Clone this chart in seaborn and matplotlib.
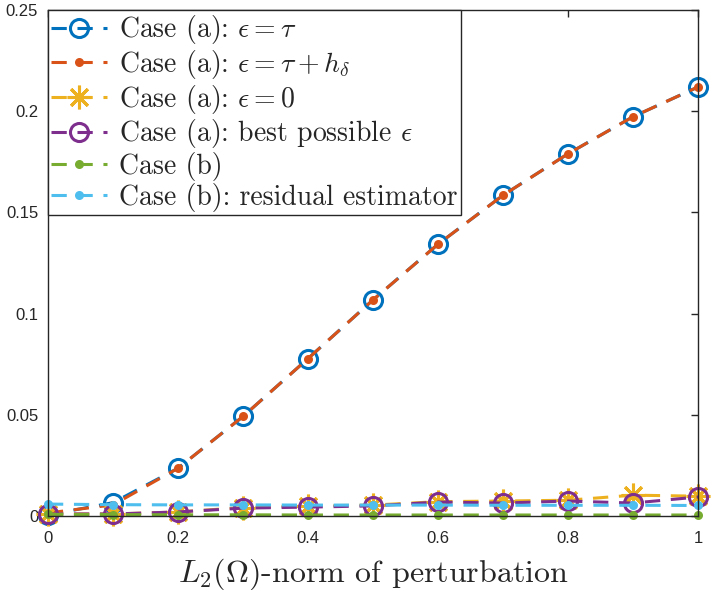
import numpy as np
import pandas as pd
import seaborn as sns
import matplotlib.pyplot as plt

# values
perturbation = [0.0, 0.1, 0.2, 0.3, 0.4, 0.5, 0.6, 0.7, 0.8, 0.9, 1.0]
eps_tau = [0.0005, 0.0066, 0.0236, 0.0492, 0.0778, 0.1068, 0.1343, 0.1585, 0.1790, 0.1973, 0.2120]
eps_tau_h = [0.0015, 0.0055, 0.0236, 0.0492, 0.0778, 0.1068, 0.1343, 0.1585, 0.1790, 0.1973, 0.2120]
eps_zero = [0.0010, 0.0010, 0.0020, 0.0042, 0.0050, 0.0054, 0.0071, 0.0074, 0.0078, 0.0103, 0.0098]
eps_best = [0.0010, 0.0010, 0.0020, 0.0039, 0.0044, 0.0050, 0.0069, 0.0064, 0.0074, 0.0064, 0.0094]
case_b = [0.0008, 0.0007, 0.0006, 0.0006, 0.0005, 0.0005, 0.0005, 0.0005, 0.0005, 0.0005, 0.0005]
case_b_res = [0.0059, 0.0056, 0.0055, 0.0055, 0.0054, 0.0054, 0.0054, 0.0053, 0.0053, 0.0053, 0.0052]

labels = [
    r"Case (a): $\epsilon = \tau$",
    r"Case (a): $\epsilon = \tau + h_\delta$",
    r"Case (a): $\epsilon = 0$",
    r"Case (a): best possible $\epsilon$",
    r"Case (b)",
    r"Case (b): residual estimator",
]
series = [eps_tau, eps_tau_h, eps_zero, eps_best, case_b, case_b_res]
colors = ["#0072BD", "#D95319", "#EDB120", "#7E2F8E", "#77AC30", "#4DBEEE"]


def main() -> None:
    sns.set_style("white")
    plt.rcParams["mathtext.fontset"] = "cm"
    plt.rcParams["font.family"] = ["Liberation Sans", "DejaVu Sans"]

    fig = plt.figure(figsize=(7.16, 5.9), dpi=100)
    ax = fig.add_axes([0.067, 0.1254, 0.908, 0.8576])

    lw = 2.2
    marker_opts = [
        dict(marker="o", markersize=13, markerfacecolor="none", markeredgewidth=lw),
        dict(marker="o", markersize=6.5, markeredgewidth=0),
        dict(marker=(8, 2, 0), markersize=17, markeredgewidth=lw),
        dict(marker="o", markersize=13, markerfacecolor="none", markeredgewidth=lw),
        dict(marker="o", markersize=6.5, markeredgewidth=0),
        dict(marker="o", markersize=6.5, markeredgewidth=0),
    ]

    for vals, lab, col, mk in zip(series, labels, colors, marker_opts):
        df = pd.DataFrame({"x": perturbation, "y": vals})
        sns.lineplot(
            data=df, x="x", y="y", ax=ax, color=col, label=lab,
            linewidth=lw, dashes=False, clip_on=False,
            markeredgecolor=col, **mk,
        )
        ax.lines[-1].set_dashes((5, 3.5))

    ax.set_xlim(0, 1)
    ax.set_ylim(0, 0.25)
    ax.set_xticks([0, 0.2, 0.4, 0.6, 0.8, 1.0])
    ax.set_xticklabels(["0", "0.2", "0.4", "0.6", "0.8", "1"])
    ax.set_yticks([0, 0.05, 0.1, 0.15, 0.2, 0.25])
    ax.set_yticklabels(["0", "0.05", "0.1", "0.15", "0.2", "0.25"])
    ax.tick_params(direction="in", length=5, width=1, top=True, right=True,
                   labelsize=12, colors="#262626")
    ax.tick_params(axis="x", pad=11)
    ax.tick_params(axis="y", pad=7)
    for sp in ax.spines.values():
        sp.set_color("#262626")
        sp.set_linewidth(1.0)

    ax.set_xlabel(r"$L_2(\Omega)$-norm of perturbation", fontsize=23,
                  family="cmr10", color="#262626", labelpad=7)
    ax.set_ylabel("")

    leg = ax.legend(loc="upper left", borderaxespad=0, fancybox=False,
                    framealpha=1, edgecolor="#262626",
                    prop={"family": "cmr10", "size": 20},
                    handlelength=2.0, labelspacing=0.06, borderpad=0.12,
                    handletextpad=0.45)
    leg.get_frame().set_linewidth(1.0)

    fig.savefig("out.png", dpi=100)


if __name__ == "__main__":
    main()
